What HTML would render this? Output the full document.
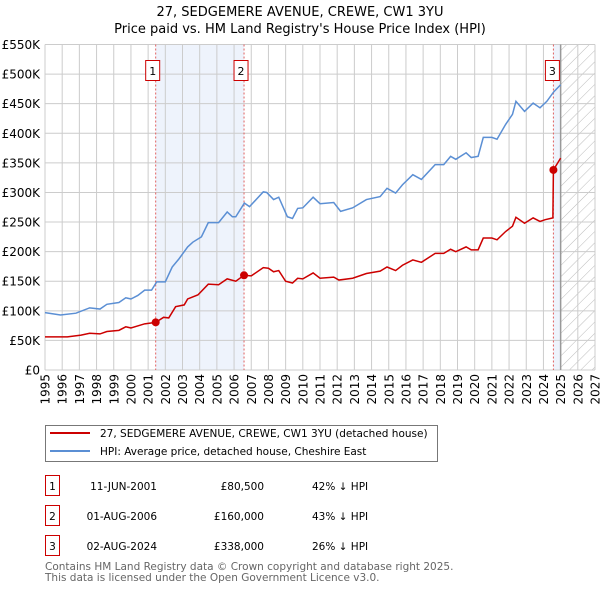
<!DOCTYPE html>
<html><head><meta charset="utf-8"><style>
body{margin:0;background:#fff;}
svg text{font-family:"DejaVu Sans","Liberation Sans",sans-serif;}
</style></head><body>
<svg id="chart" width="600" height="590" xmlns="http://www.w3.org/2000/svg">
<text x="300" y="16" text-anchor="middle" font-size="13">27, SEDGEMERE AVENUE, CREWE, CW1 3YU</text>
<text x="300" y="33" text-anchor="middle" font-size="13">Price paid vs. HM Land Registry's House Price Index (HPI)</text>
<defs><pattern id="hatch" width="8" height="8" patternUnits="userSpaceOnUse" patternTransform="rotate(45)"><line x1="0" y1="0" x2="0" y2="8" stroke="#bbb" stroke-width="1"/></pattern></defs>
<g id="grid"></g>
<g id="marks"></g>
<g id="axes"></g>
<g>
<rect x="45.5" y="425.5" width="392" height="36" fill="#fff" stroke="#777"/>
<line x1="50" y1="433" x2="90" y2="433" stroke="#cc0000" stroke-width="2"/>
<text x="100" y="437" font-size="10.5">27, SEDGEMERE AVENUE, CREWE, CW1 3YU (detached house)</text>
<line x1="50" y1="451" x2="90" y2="451" stroke="#5b8fd4" stroke-width="2"/>
<text x="100" y="455" font-size="10.5">HPI: Average price, detached house, Cheshire East</text>
</g>
<g font-size="10.5">
<rect x="45.5" y="475.5" width="14" height="20" fill="none" stroke="#cc0000"/><text x="52.5" y="490" text-anchor="middle">1</text>
<text x="157" y="490" text-anchor="end">11-JUN-2001</text><text x="264" y="490" text-anchor="end">£80,500</text><text x="312" y="490">42% ↓ HPI</text>
<rect x="45.5" y="505.5" width="14" height="20" fill="none" stroke="#cc0000"/><text x="52.5" y="520" text-anchor="middle">2</text>
<text x="157" y="520" text-anchor="end">01-AUG-2006</text><text x="264" y="520" text-anchor="end">£160,000</text><text x="312" y="520">43% ↓ HPI</text>
<rect x="45.5" y="535.5" width="14" height="20" fill="none" stroke="#cc0000"/><text x="52.5" y="550" text-anchor="middle">3</text>
<text x="157" y="550" text-anchor="end">02-AUG-2024</text><text x="264" y="550" text-anchor="end">£338,000</text><text x="312" y="550">26% ↓ HPI</text>
</g>
<text x="45" y="570" font-size="10.5" fill="#666">Contains HM Land Registry data © Crown copyright and database right 2025.</text>
<text x="45" y="581" font-size="10.5" fill="#666">This data is licensed under the Open Government Licence v3.0.</text>
</svg>
<script>
const hpiYears=[1995,1995.9,1996.8,1997.6,1998.2,1998.6,1999.3,1999.7,2000.0,2000.4,2000.8,2001.2,2001.5,2002.0,2002.4,2002.8,2003.3,2003.6,2004.1,2004.5,2005.1,2005.6,2005.9,2006.1,2006.6,2006.9,2007.7,2007.9,2008.3,2008.6,2009.1,2009.4,2009.7,2010.0,2010.6,2011.0,2011.8,2012.2,2012.9,2013.7,2014.5,2014.9,2015.4,2015.8,2016.4,2016.9,2017.7,2018.2,2018.6,2018.9,2019.5,2019.8,2020.2,2020.5,2021.0,2021.3,2021.8,2022.2,2022.4,2022.9,2023.4,2023.8,2024.2,2024.6,2025.0];
const hpiValues=[97,93,96,105,103,111,114,122,120,126,135,135,149,149,174,188,208,216,225,249,249,267,259,259,282,276,301,300,288,292,259,256,273,274,292,281,283,268,274,288,293,307,299,313,330,322,347,347,361,356,367,359,361,393,393,390,415,432,454,437,451,443,454,470,482];
const priceYears=[1995,1996.3,1997.1,1997.6,1998.2,1998.6,1999.3,1999.7,2000.0,2000.8,2001.44,2001.9,2002.2,2002.6,2003.1,2003.3,2003.9,2004.5,2005.1,2005.6,2006.1,2006.58,2007.0,2007.7,2008.0,2008.3,2008.6,2009.0,2009.4,2009.7,2010.0,2010.6,2011.0,2011.8,2012.1,2012.9,2013.7,2014.5,2014.9,2015.4,2015.8,2016.4,2016.9,2017.7,2018.2,2018.6,2018.9,2019.5,2019.8,2020.2,2020.5,2021.0,2021.3,2021.8,2022.2,2022.4,2022.9,2023.4,2023.8,2024.1,2024.55,2024.58,2025.0];
const priceValues=[56,56,59,62,61,65,67,73,71,78,80.5,89,88,107,110,120,127,145,144,154,150,160,159,173,172,166,168,150,147,155,154,164,155,157,152,155,163,167,174,168,177,186,182,197,197,204,200,208,203,203,223,223,220,234,243,258,248,257,251,254,257,338,358];
const saleYears=[2001.44,2006.58,2024.58];
const saleValues=[80.5,160,338];
const saleLabels=["1","2","3"];
const yTicks=[0,50,100,150,200,250,300,350,400,450,500,550];
const yTickLabels=["£0","£50K","£100K","£150K","£200K","£250K","£300K","£350K","£400K","£450K","£500K","£550K"];
const xTicks=[1995,1996,1997,1998,1999,2000,2001,2002,2003,2004,2005,2006,2007,2008,2009,2010,2011,2012,2013,2014,2015,2016,2017,2018,2019,2020,2021,2022,2023,2024,2025,2026,2027];
const dataEnd=2025;

const X0=45,X1=595,Y0=370,Y1=44.5;
const xs=y=>X0+(y-1995)/(2027-1995)*(X1-X0);
const ys=v=>Y0-v/550*(Y0-Y1);
const NS="http://www.w3.org/2000/svg";
function mk(parent,tag,attrs){const e=document.createElementNS(NS,tag);for(const k in attrs)e.setAttribute(k,attrs[k]);document.getElementById(parent).appendChild(e);return e;}

let r=mk('grid','rect',{x:xs(saleYears[0]),y:Y1,width:xs(saleYears[1])-xs(saleYears[0]),height:Y0-Y1,fill:'#eef3fc'});


r=mk('grid','rect',{x:xs(saleYears[2]),y:Y1,width:xs(dataEnd)-xs(saleYears[2]),height:Y0-Y1,fill:'#eef3fc'});


r=mk('grid','rect',{x:xs(dataEnd),y:Y1,width:X1-xs(dataEnd),height:Y0-Y1,fill:'url(#hatch)'});


yTicks.forEach((t,i)=>{
 const l=mk('grid','line',{x1:X0,x2:X1,y1:ys(t),y2:ys(t),stroke:'#cccccc','stroke-width':1});
 
 
 const tx=mk('axes','text',{x:40,y:ys(t)+4.5,'text-anchor':'end','font-size':12});
 
 
 tx.textContent=yTickLabels[i];
});
xTicks.forEach(t=>{
 const l=mk('grid','line',{x1:xs(t),x2:xs(t),y1:Y1,y2:Y0,stroke:'#cccccc','stroke-width':1});
 
 
 const tx=mk('axes','text',{x:0,y:0,'font-size':12,'text-anchor':'end',transform:`translate(${xs(t)+4.5},374) rotate(-90)`});
 
 
 tx.textContent=t;
});
const lim=mk('grid','line',{x1:xs(dataEnd),x2:xs(dataEnd),y1:Y1,y2:Y0,stroke:'#999','stroke-width':1.5});


saleYears.forEach((s,i)=>{
 const l=mk('marks','line',{x1:xs(s),x2:xs(s),y1:Y1,y2:Y0,stroke:'#e06060','stroke-width':1,'stroke-dasharray':'2,2'});
 
 
});
const hp=mk('marks','polyline',{points:hpiYears.map((y,i)=>xs(y)+','+ys(hpiValues[i])).join(' '),fill:'none',stroke:'#5b8fd4','stroke-width':1.5});


const pp=mk('marks','polyline',{points:priceYears.map((y,i)=>xs(y)+','+ys(priceValues[i])).join(' '),fill:'none',stroke:'#cc0000','stroke-width':1.5});


saleYears.forEach((s,i)=>{
 const c=mk('marks','circle',{cx:xs(s),cy:ys(saleValues[i]),r:4,fill:'#cc0000'});
 
 
 const bx=xs(s)-(i==2?8:10);
 const b=mk('marks','rect',{x:bx,y:60.5,width:14,height:20,fill:'#fff',stroke:'#cc0000'});
 
 
 const t=mk('marks','text',{x:bx+7,y:75,'text-anchor':'middle','font-size':11});
 
 
 t.textContent=saleLabels[i];
});
</script>
</body></html>
